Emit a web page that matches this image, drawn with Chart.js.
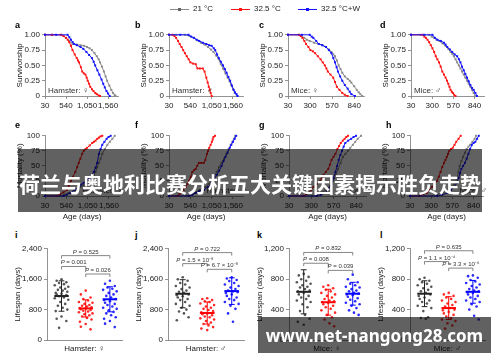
<!DOCTYPE html>
<html>
<head>
<meta charset="utf-8">
<script src="https://cdn.jsdelivr.net/npm/chart.js@4.4.1/dist/chart.umd.min.js"></script>
<style>
  body { margin: 0; width: 500px; height: 362px; background: #fff; position: relative; overflow: hidden;
         font-family: "Liberation Sans", Arial, sans-serif; }
  canvas { position: absolute; }
  .letter { position: absolute; font: bold 9px "Liberation Sans", Arial, sans-serif; color: #000; transform: translateY(-50%); }
  .leg { position: absolute; top: 9px; }
  .leg i { position: absolute; top: 0; height: 1px; width: 19px; }
  .leg b { position: absolute; top: -1px; width: 3px; height: 3px; }
  .leg span { position: absolute; top: -5px; font-size: 8px; color: #222; white-space: nowrap; }
  .banner { position: absolute; background: rgba(0,0,0,0.62); color: #fff; display: flex;
            align-items: center; justify-content: center; white-space: nowrap; }
</style>
</head>
<body>
<script>
// ---- data -----------------------------------------------------------
const SERIES = ['21 °C', '32.5 °C', '32.5 °C+W'];
const COLORS = ['#8a8a8a', '#ff1414', '#1414ff'];

const hamsterAgeTicks = [30, 540, 1050, 1560];
const miceAgeTicks = [30, 300, 570, 840];
const survTicks = [0, 0.25, 0.5, 0.75, 1];
const mortTicks = [0, 25, 50, 75, 100];
const hamsterLifeTicks = [0, 800, 1600, 2400];
const miceLifeTicks = [0, 400, 800, 1200];
const panelNames = ['Hamster: ♀', 'Hamster: ♂', 'Mice: ♀', 'Mice: ♂'];

// survivorship [age, fraction]
const a21 = [[30,1],[200,1],[422,1],[480,0.98],[540,0.95],[620,0.9],[697,0.85],[800,0.84],[893,0.83],[980,0.82],[1050,0.8],[1110,0.78],[1168,0.75],[1230,0.7],[1285,0.65],[1330,0.6],[1364,0.55],[1410,0.48],[1458,0.4],[1500,0.32],[1536,0.25],[1590,0.17],[1638,0.1],[1680,0.05],[1717,0.02],[1740,0]];
const a325 = [[30,1],[200,1],[422,1],[480,0.98],[540,0.95],[580,0.92],[618,0.88],[660,0.82],[697,0.75],[750,0.68],[799,0.62],[830,0.58],[854,0.55],[900,0.47],[932,0.4],[970,0.37],[1011,0.35],[1040,0.3],[1066,0.25],[1100,0.2],[1128,0.15],[1170,0.11],[1207,0.08],[1250,0.05],[1285,0.03],[1330,0.01],[1364,0]];
const a325w = [[30,1],[300,1],[579,1],[620,0.96],[658,0.92],[700,0.88],[736,0.85],[800,0.83],[893,0.8],[960,0.77],[1034,0.72],[1100,0.67],[1168,0.62],[1210,0.56],[1246,0.5],[1300,0.42],[1348,0.35],[1400,0.27],[1442,0.2],[1480,0.14],[1521,0.08],[1560,0.04],[1599,0]];
const b21 = [[30,1],[200,1],[412,1],[520,0.98],[625,0.95],[710,0.91],[795,0.87],[880,0.84],[965,0.8],[1030,0.76],[1093,0.72],[1160,0.66],[1220,0.6],[1270,0.52],[1322,0.45],[1380,0.37],[1433,0.3],[1480,0.24],[1518,0.18],[1560,0.11],[1603,0.05],[1662,0]];
const b325 = [[30,1],[115,1],[160,0.98],[200,0.95],[245,0.9],[285,0.85],[330,0.8],[370,0.75],[410,0.7],[455,0.65],[500,0.6],[540,0.55],[600,0.53],[668,0.52],[710,0.45],[770,0.45],[838,0.45],[880,0.4],[923,0.3],[955,0.22],[982,0.15],[1005,0.1],[1025,0.05],[1050,0]];
const b325w = [[30,1],[300,1],[498,1],[560,0.97],[625,0.95],[690,0.92],[753,0.9],[840,0.87],[923,0.85],[990,0.83],[1050,0.82],[1100,0.78],[1135,0.75],[1180,0.68],[1220,0.62],[1270,0.56],[1322,0.5],[1365,0.44],[1407,0.38],[1450,0.31],[1492,0.25],[1535,0.17],[1577,0.1],[1610,0.06],[1645,0.03],[1670,0]];
const c21 = [[30,1],[163,1],[195,0.98],[229,0.95],[260,0.92],[296,0.9],[350,0.87],[406,0.85],[450,0.83],[495,0.8],[530,0.76],[561,0.72],[585,0.68],[605,0.65],[628,0.58],[650,0.5],[672,0.44],[694,0.38],[725,0.32],[760,0.28],[785,0.25],[805,0.22],[840,0.16],[871,0.1],[895,0.06],[915,0.03],[937,0]];
const c325 = [[30,1],[163,1],[185,0.98],[207,0.95],[230,0.9],[251,0.85],[280,0.8],[304,0.75],[335,0.73],[362,0.7],[395,0.65],[428,0.6],[455,0.55],[481,0.5],[500,0.45],[517,0.4],[550,0.35],[583,0.3],[605,0.23],[628,0.15],[660,0.1],[694,0.05],[725,0.02],[760,0]];
const c325w = [[30,1],[200,1],[296,1],[320,0.97],[340,0.95],[375,0.9],[406,0.85],[450,0.83],[495,0.8],[530,0.75],[561,0.7],[585,0.62],[605,0.55],[625,0.47],[641,0.4],[668,0.32],[694,0.25],[725,0.18],[760,0.12],[785,0.07],[805,0.03],[849,0]];
const d21 = [[30,1],[150,1],[261,1],[295,0.97],[324,0.95],[355,0.92],[387,0.9],[430,0.86],[471,0.82],[505,0.77],[534,0.72],[555,0.69],[576,0.65],[598,0.6],[618,0.55],[640,0.5],[660,0.45],[680,0.4],[702,0.35],[722,0.3],[744,0.25],[765,0.2],[786,0.15],[808,0.1],[828,0.05],[849,0]];
const d325 = [[30,1],[177,1],[200,0.97],[219,0.95],[240,0.92],[261,0.88],[282,0.83],[303,0.78],[325,0.72],[345,0.65],[366,0.6],[387,0.55],[408,0.48],[429,0.4],[450,0.35],[471,0.3],[488,0.25],[505,0.2],[520,0.15],[534,0.1],[550,0.07],[563,0.05],[580,0.02],[597,0]];
const d325w = [[30,1],[200,1],[303,1],[335,0.95],[366,0.92],[410,0.9],[450,0.87],[470,0.84],[492,0.8],[525,0.76],[555,0.72],[585,0.68],[618,0.65],[640,0.6],[660,0.55],[680,0.48],[702,0.42],[722,0.36],[744,0.3],[765,0.24],[786,0.18],[808,0.13],[828,0.1],[850,0.05],[870,0]];

// mortality [age, %]
const e21 = [[30,0],[393,0],[490,2],[594,5],[740,10],[876,15],[960,18],[1037,20],[1100,24],[1158,28],[1200,34],[1239,40],[1280,48],[1319,55],[1360,62],[1400,70],[1460,78],[1521,85],[1580,90],[1641,95],[1698,100]];
const e325 = [[30,0],[312,0],[393,3],[470,6],[554,10],[600,17],[650,25],[700,32],[755,40],[800,48],[836,55],[876,62],[920,70],[957,75],[1000,78],[1037,80],[1100,84],[1158,88],[1200,90],[1239,92],[1280,95],[1319,97],[1360,99],[1400,100]];
const e325w = [[30,0],[473,0],[550,2],[634,5],[740,10],[836,15],[900,19],[957,22],[1020,25],[1077,28],[1140,34],[1198,40],[1240,47],[1279,55],[1319,70],[1360,78],[1400,85],[1450,90],[1504,95],[1550,98],[1601,100]];
const f21 = [[30,0],[434,0],[530,2],[628,5],[760,10],[899,15],[980,20],[1055,25],[1110,32],[1171,40],[1230,48],[1288,55],[1345,62],[1404,70],[1455,78],[1505,85],[1545,90],[1583,95],[1614,100]];
const f325 = [[30,0],[240,0],[280,3],[317,5],[375,10],[434,15],[470,20],[511,25],[550,32],[589,40],[630,43],[667,45],[705,50],[744,55],[800,55],[861,55],[899,60],[938,70],[965,75],[993,80],[1025,85],[1055,90],[1075,94],[1094,98],[1132,100]];
const f325w = [[30,0],[511,0],[590,2],[667,5],[760,8],[861,10],[960,15],[1055,20],[1110,27],[1171,35],[1230,42],[1288,50],[1335,58],[1381,65],[1430,72],[1482,80],[1520,85],[1559,90],[1600,95],[1637,100]];
const g21 = [[30,0],[307,0],[400,5],[485,10],[525,17],[564,25],[595,35],[623,45],[652,55],[682,65],[712,70],[742,75],[770,80],[801,85],[830,90],[860,95],[900,100]];
const g325 = [[30,0],[208,0],[238,3],[267,5],[296,10],[326,15],[366,20],[406,25],[425,30],[445,35],[475,40],[504,45],[524,52],[544,60],[568,65],[591,70],[615,78],[635,83],[655,88],[680,92],[702,95],[722,98],[742,100]];
const g325w = [[30,0],[366,0],[415,2],[465,5],[505,12],[544,20],[568,30],[591,40],[611,50],[631,60],[650,68],[670,75],[690,82],[710,88],[745,92],[781,95],[810,98],[840,100]];
const h21 = [[30,0],[309,0],[430,5],[552,10],[592,20],[632,30],[648,40],[663,50],[685,58],[707,65],[730,72],[751,78],[775,82],[796,85],[825,90],[853,95],[871,100]];
const h325 = [[30,0],[154,0],[200,3],[242,5],[275,10],[309,15],[342,20],[375,25],[397,32],[419,40],[441,48],[464,55],[482,60],[499,65],[515,70],[530,75],[552,78],[574,80],[597,85],[619,90],[648,95],[676,100]];
const h325w = [[30,0],[375,0],[440,2],[508,5],[552,10],[597,15],[624,22],[650,30],[668,38],[685,45],[707,50],[729,55],[752,62],[774,70],[796,78],[818,85],[840,88],[862,90],[885,95],[906,100]];

// lifespans (days) per animal
const i21 = [1600,1560,1520,1500,1470,1440,1400,1380,1350,1320,1300,1270,1240,1220,1200,1180,1150,1120,1100,1060,1000,950,900,850,800,760,620,560,500,320];
const i325 = [1300,1200,1120,1080,1040,1000,980,950,920,900,880,860,840,830,810,790,770,750,730,700,680,650,620,580,540,480,420,350,280];
const i325w = [1560,1480,1420,1380,1350,1320,1280,1240,1200,1160,1120,1080,1050,1020,980,950,920,880,850,820,780,740,700,650,600,560,500,430,340];
const j21 = [1650,1600,1560,1500,1460,1420,1380,1340,1300,1270,1240,1200,1180,1150,1120,1080,1050,1000,950,900,850,800,750,700,600,520];
const j325 = [1100,1080,1050,1020,1000,960,920,880,850,820,790,760,730,700,680,650,620,600,570,540,500,460,420,380,340,300,260];
const j325w = [1650,1620,1580,1550,1500,1460,1420,1380,1340,1300,1280,1260,1240,1200,1160,1120,1080,1050,1000,950,900,820,700,480];
const k21 = [870,850,830,800,780,760,740,720,700,690,670,650,640,620,600,580,560,540,520,500,470,430,380,330,280,240,200];
const k325 = [720,700,680,660,640,620,600,580,560,540,520,510,500,490,470,450,430,410,390,360,330,300,270,220,180];
const k325w = [860,800,760,740,720,700,690,670,650,640,620,610,600,590,570,550,530,510,490,470,450,420,390,360,330];
const l21 = [820,800,780,760,740,720,700,680,660,640,620,600,580,560,540,520,500,480,450,420,380,300,290,280];
const l325 = [620,600,580,560,540,520,500,480,460,440,420,400,390,370,350,330,310,290,270,250,220,190,150];
const l325w = [850,840,820,790,770,750,730,710,690,670,650,640,630,620,600,580,560,540,520,500,470,440,400,320,270];

const iMean = [1157, 831, 1071], iSD = [400, 225, 330];
const jMean = [1217, 711, 1286], jSD = [370, 290, 350];
const kMean = [634, 497, 609], kSD = [290, 170, 150];
const lMean = [609, 420, 634], lSD = [170, 150, 150];

const iP = ['P = 0.525', 'P = 0.001', 'P = 0.026'];
const jP = ['P = 0.722', 'P = 1.5 × 10⁻⁸', 'P = 6.7 × 10⁻⁸'];
const kP = ['P = 0.832', 'P = 0.008', 'P = 0.039'];
const lP = ['P = 0.635', 'P = 1.1 × 10⁻⁴', 'P = 3.3 × 10⁻⁶'];

// ---- layout / style --------------------------------------------------
const FONT = '"Liberation Sans", Arial, sans-serif';
Chart.defaults.font.family = FONT;
Chart.defaults.color = '#222';
const AXIS_COL = '#777';
const DOT_COLORS = ['#555', '#ff2a2a', '#2a2aff'];
const STAT_COLORS = ['#222', '#ff0000', '#0000ff'];
const JITTER = [0, -0.2, 0.2, -0.1, 0.1, -0.28, 0.28, -0.05, 0.15, -0.15, 0.05, 0.24, -0.24];
const PT = 5, PR = 10;

function addCanvas(left, top, w, h) {
  const c = document.createElement('canvas');
  c.width = w; c.height = h;
  c.style.left = left + 'px'; c.style.top = top + 'px';
  document.body.appendChild(c);
  return c.getContext('2d');
}

const fmtNum = v => v.toLocaleString('en-US');
const fmtSurv = v => v === 0 ? '0' : v.toFixed(2);

function axis(tickArr, extra) {
  return Object.assign({
    type: 'linear',
    afterBuildTicks: s => { s.ticks = tickArr.map(v => ({ value: v })); },
    grid: { display: true, drawOnChartArea: false, drawTicks: true, tickLength: 3, color: AXIS_COL, lineWidth: 0.8 },
    border: { display: true, color: AXIS_COL, width: 0.8 },
    ticks: { autoSkip: false, maxRotation: 0, padding: 2, font: { size: 8 }, color: '#222' }
  }, extra);
}

const cornerText = {
  id: 'cornerText',
  afterDraw(chart, args, o) {
    if (!o.text) return;
    const { ctx, chartArea: a } = chart;
    ctx.save();
    ctx.font = '8px ' + FONT;
    ctx.fillStyle = '#333';
    if (o.right) { ctx.textAlign = 'right'; ctx.fillText(o.text, a.right + 4, a.bottom - 3); }
    else { ctx.textAlign = 'left'; ctx.fillText(o.text, a.left + 3, a.bottom - 3); }
    ctx.restore();
  }
};

function curvePanel(box, groups, o) {
  const YW = 30, XH = o.xTitle ? 26 : 14;
  const w = YW + (box.R - box.L) + PR, h = PT + (box.B - box.T) + XH;
  const ctx = addCanvas(box.L - YW, box.T - PT, w, h);
  new Chart(ctx, {
    type: 'line',
    data: {
      datasets: groups.map((pts, k) => ({
        label: SERIES[k],
        data: pts.map(p => ({ x: p[0], y: p[1] })),
        borderColor: COLORS[k], backgroundColor: COLORS[k],
        borderWidth: 1, pointStyle: 'rect', pointRadius: 1.4, pointBorderWidth: 0,
        tension: 0, clip: false, order: 2 - k
      }))
    },
    options: {
      responsive: false, animation: false, events: [],
      layout: { padding: { top: PT, right: PR, left: 0, bottom: 0 } },
      scales: {
        x: axis(o.xTicks, {
          min: 30, max: o.xMax,
          afterFit: s => { s.height = XH; },
          ticks: { autoSkip: false, maxRotation: 0, padding: 2, font: { size: 8 }, color: '#222', callback: fmtNum },
          title: { display: !!o.xTitle, text: o.xTitle, font: { size: 8 }, color: '#222', padding: 0 }
        }),
        y: axis(o.yTicks, {
          min: o.yTicks[0], max: o.yTicks[o.yTicks.length - 1],
          afterFit: s => { s.width = YW; },
          ticks: { autoSkip: false, padding: 2, font: { size: 8 }, color: '#222', callback: o.yFmt },
          title: { display: true, text: o.yTitle, font: { size: 8 }, color: '#222', padding: 0 }
        })
      },
      plugins: { legend: { display: false }, tooltip: { enabled: false },
                 cornerText: { text: o.name, right: o.nameRight } }
    },
    plugins: [cornerText]
  });
}

const statsLayer = {
  id: 'statsLayer',
  afterDatasetsDraw(chart, args, o) {
    const { ctx, scales: { x, y } } = chart;
    ctx.save();
    o.means.forEach((m, k) => {
      const g = k + 1, cx = x.getPixelForValue(g);
      const yt = y.getPixelForValue(m + o.sds[k]), yb = y.getPixelForValue(m - o.sds[k]);
      const cw = x.getPixelForValue(g + 0.12) - cx, mw = x.getPixelForValue(g + 0.3) - cx;
      ctx.strokeStyle = STAT_COLORS[k];
      ctx.lineWidth = 1;
      ctx.beginPath();
      ctx.moveTo(cx, yt); ctx.lineTo(cx, yb);
      ctx.moveTo(cx - cw, yt); ctx.lineTo(cx + cw, yt);
      ctx.moveTo(cx - cw, yb); ctx.lineTo(cx + cw, yb);
      ctx.stroke();
      const ym = y.getPixelForValue(m);
      ctx.lineWidth = 2;
      ctx.beginPath(); ctx.moveTo(cx - mw, ym); ctx.lineTo(cx + mw, ym); ctx.stroke();
    });
    o.brackets.forEach((b, k) => {
      const x1 = x.getPixelForValue(b[0]), x2 = x.getPixelForValue(b[1]), yy = y.getPixelForValue(b[2]);
      ctx.strokeStyle = '#666'; ctx.lineWidth = 0.8;
      ctx.beginPath();
      ctx.moveTo(x1, yy + 3); ctx.lineTo(x1, yy); ctx.lineTo(x2, yy); ctx.lineTo(x2, yy + 3);
      ctx.stroke();
      const txt = o.pText[k];
      ctx.fillStyle = '#333'; ctx.textAlign = 'left'; ctx.textBaseline = 'alphabetic';
      ctx.font = 'italic 6px ' + FONT;
      const wP = ctx.measureText('P').width;
      ctx.font = '6px ' + FONT;
      const rest = txt.slice(1), wR = ctx.measureText(rest).width;
      const sx = (x1 + x2) / 2 - (wP + wR) / 2;
      ctx.font = 'italic 6px ' + FONT; ctx.fillText('P', sx, yy - 2);
      ctx.font = '6px ' + FONT; ctx.fillText(rest, sx + wP, yy - 2);
    });
    ctx.restore();
  }
};

function dotPanel(box, groups, o) {
  const YW = 34, XH = 14;
  const w = YW + (box.R - box.L) + PR, h = PT + (box.B - box.T) + XH;
  const ctx = addCanvas(box.L - YW, box.T - PT, w, h);
  new Chart(ctx, {
    type: 'scatter',
    data: {
      datasets: groups.map((vals, k) => ({
        label: SERIES[k],
        data: vals.map((v, i) => ({ x: k + 1 + JITTER[i % JITTER.length], y: v })),
        backgroundColor: DOT_COLORS[k], borderWidth: 0, pointRadius: 1.3, clip: false
      }))
    },
    options: {
      responsive: false, animation: false, events: [],
      layout: { padding: { top: PT, right: PR, left: 0, bottom: 0 } },
      scales: {
        x: {
          type: 'linear', min: 0.4, max: 3.5,
          afterFit: s => { s.height = XH; },
          grid: { display: false }, border: { display: true, color: AXIS_COL, width: 0.8 },
          ticks: { display: false },
          title: { display: true, text: o.name, font: { size: 8 }, color: '#222', padding: 0 }
        },
        y: axis(o.yTicks, {
          min: 0, max: o.yTicks[o.yTicks.length - 1],
          afterFit: s => { s.width = YW; },
          ticks: { autoSkip: false, padding: 2, font: { size: 8 }, color: '#222', callback: fmtNum },
          title: { display: true, text: 'Lifespan (days)', font: { size: 8 }, color: '#222', padding: 0 }
        })
      },
      plugins: { legend: { display: false }, tooltip: { enabled: false },
                 statsLayer: { means: o.means, sds: o.sds, brackets: o.brackets, pText: o.pText } }
    },
    plugins: [statsLayer]
  });
}

// ---- panels ----------------------------------------------------------
const survOpts = { yTicks: survTicks, yFmt: fmtSurv, yTitle: 'Survivorship' };
curvePanel({ L: 45, R: 118, T: 33, B: 96 }, [a21, a325, a325w], Object.assign({ xTicks: hamsterAgeTicks, xMax: 1800, name: panelNames[0] }, survOpts));
curvePanel({ L: 169, R: 243, T: 33, B: 96 }, [b21, b325, b325w], Object.assign({ xTicks: hamsterAgeTicks, xMax: 1800, name: panelNames[1] }, survOpts));
curvePanel({ L: 288, R: 364, T: 33, B: 96 }, [c21, c325, c325w], Object.assign({ xTicks: miceAgeTicks, xMax: 960, name: panelNames[2] }, survOpts));
curvePanel({ L: 411, R: 484, T: 33, B: 96 }, [d21, d325, d325w], Object.assign({ xTicks: miceAgeTicks, xMax: 960, name: panelNames[3] }, survOpts));

const mortOpts = { yTicks: mortTicks, yFmt: fmtNum, yTitle: 'Mortality (%)', xTitle: 'Age (days)', nameRight: true };
curvePanel({ L: 45, R: 119, T: 134, B: 196 }, [e21, e325, e325w], Object.assign({ xTicks: hamsterAgeTicks, xMax: 1800, name: panelNames[0] }, mortOpts));
curvePanel({ L: 169, R: 243, T: 134, B: 196 }, [f21, f325, f325w], Object.assign({ xTicks: hamsterAgeTicks, xMax: 1800, name: panelNames[1] }, mortOpts));
curvePanel({ L: 289, R: 366, T: 134, B: 196 }, [g21, g325, g325w], Object.assign({ xTicks: miceAgeTicks, xMax: 960, name: panelNames[2] }, mortOpts));
curvePanel({ L: 410, R: 483, T: 134, B: 196 }, [h21, h325, h325w], Object.assign({ xTicks: miceAgeTicks, xMax: 960, name: panelNames[3] }, mortOpts));

dotPanel({ L: 47, R: 122, T: 247, B: 340 }, [i21, i325, i325w],
  { yTicks: hamsterLifeTicks, name: panelNames[0], means: iMean, sds: iSD, pText: iP, brackets: [[1, 3, 2220], [1, 2, 1935], [2, 3, 1737]] });
dotPanel({ L: 168, R: 244, T: 247, B: 340 }, [j21, j325, j325w],
  { yTicks: hamsterLifeTicks, name: panelNames[1], means: jMean, sds: jSD, pText: jP, brackets: [[1, 3, 2300], [1, 2, 2010], [2, 3, 1860]] });
dotPanel({ L: 289, R: 365, T: 247, B: 340 }, [k21, k325, k325w],
  { yTicks: miceLifeTicks, name: panelNames[2], means: kMean, sds: kSD, pText: kP, brackets: [[1, 3, 1152], [1, 2, 1010], [2, 3, 916]] });
dotPanel({ L: 410, R: 485, T: 247, B: 340 }, [l21, l325, l325w],
  { yTicks: miceLifeTicks, name: panelNames[3], means: lMean, sds: lSD, pText: lP, brackets: [[1, 3, 1174], [1, 2, 1032], [2, 3, 946]] });

// ---- letters, legend, overlays ---------------------------------------
const letters = [['a',15,25],['b',135,25],['c',259,25],['d',380,25],['e',15,125],['f',135,125],['g',259,125],['h',386,125],['i',15,235],['j',135,235],['k',257,235],['l',380,235]];
letters.forEach(([t, x, y]) => {
  const d = document.createElement('div');
  d.className = 'letter'; d.textContent = t;
  d.style.left = x + 'px'; d.style.top = y + 'px';
  document.body.appendChild(d);
});

const LEG_X = [170, 231, 298];
SERIES.forEach((s, k) => {
  const d = document.createElement('div');
  d.className = 'leg'; d.style.left = LEG_X[k] + 'px';
  d.innerHTML = `<i style="background:${COLORS[k]}"></i><b style="left:8px;background:${k === 0 ? '#666' : COLORS[k]}"></b><span style="left:23px">${s}</span>`;
  document.body.appendChild(d);
});

const b1 = document.createElement('div');
b1.className = 'banner';
b1.style.cssText = 'left:18px;top:149px;width:464px;height:63px;font:bold 21px "Noto Sans CJK SC";padding-top:4px;box-sizing:border-box;';
b1.textContent = '荷兰与奥地利比赛分析五大关键因素揭示胜负走势';
document.body.appendChild(b1);

const b2 = document.createElement('div');
b2.className = 'banner';
b2.style.cssText = 'left:258px;top:317px;width:233px;height:36px;font:bold 17px "Noto Sans";';
b2.textContent = 'www.net-nangong28.com';
document.body.appendChild(b2);
</script>
</body>
</html>
